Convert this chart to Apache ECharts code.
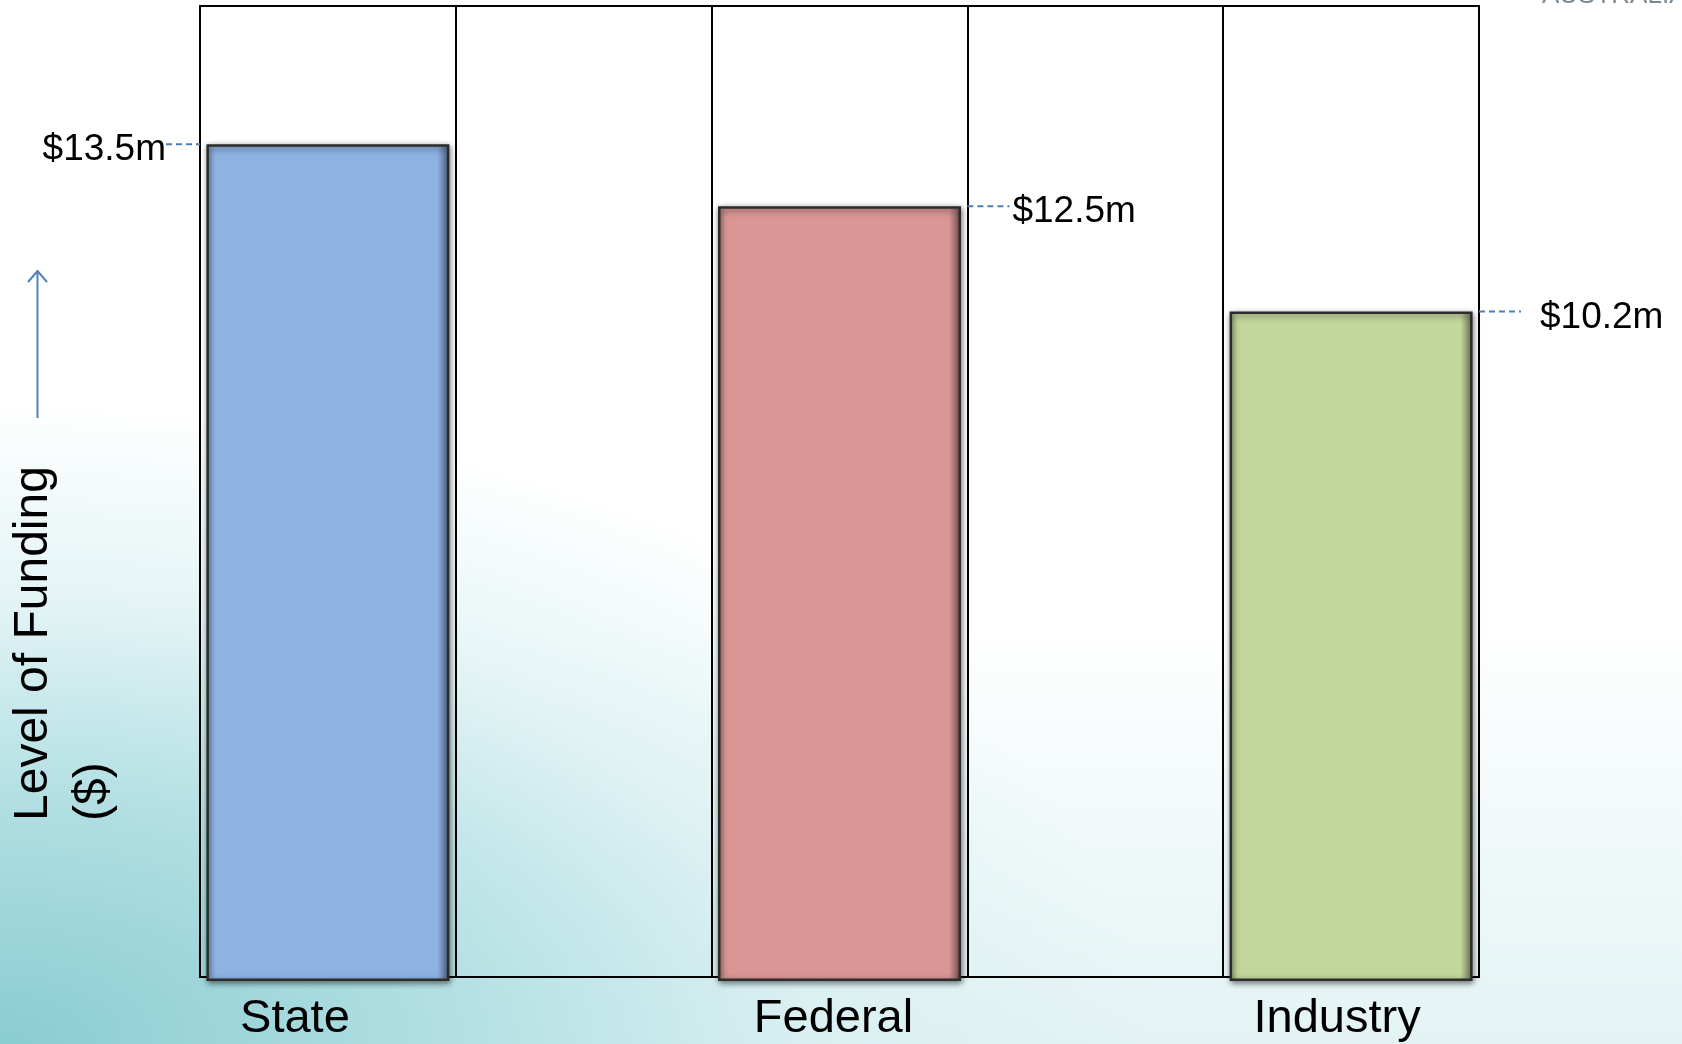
<!DOCTYPE html>
<html>
<head>
<meta charset="utf-8">
<script src="https://cdn.jsdelivr.net/npm/echarts@6/dist/echarts.min.js"></script>
<style>
  html, body { margin: 0; padding: 0; }
  body {
    width: 1682px; height: 1044px; overflow: hidden;
    background:
      radial-gradient(ellipse 1150px 640px at 0% 100%, rgba(138,204,210,1) 0%, rgba(170,220,224,0.95) 35%, rgba(210,237,239,0.6) 70%, rgba(255,255,255,0) 100%),
      linear-gradient(to top, #e3f3f4 0%, #ffffff 40%);
  }
  #chart { width: 1682px; height: 1044px; }
</style>
</head>
<body>
<div id="chart"></div>
<script>
// ---- data ----
const categories    = ['State', '', 'Federal', '', 'Industry'];
const fundingValues = [13.5, null, 12.5, null, 10.8];      // bar heights ($m) as drawn
const valueLabels   = ['$13.5m', '', '$12.5m', '', '$10.2m'];
const axisTitle     = 'Level of Funding\n($)';
const cornerText    = 'AUSTRALIA';

// ---- styling (kept separate from data) ----
const barColors  = ['#8DB3E2', null, '#D99694', null, '#C3D69B'];
const labelSide  = ['left', null, 'right', null, 'right'];
const labelGap   = [1, 0, 3, 0, 19];     // gap between leader line and value text
const labelShift = [66, 0, 12, 0, 28];   // padding to nudge category labels left
const FONT = '"Liberation Sans", Arial, sans-serif';

function shade(hex, f) {
  const n = parseInt(hex.slice(1), 16);
  const r = Math.round(((n >> 16) & 255) * f), g = Math.round(((n >> 8) & 255) * f), b = Math.round((n & 255) * f);
  return 'rgb(' + r + ',' + g + ',' + b + ')';
}
function barFill(hex) {
  return {
    type: 'linear', x: 0, y: 0, x2: 1, y2: 0,
    colorStops: [
      { offset: 0, color: shade(hex, 0.75) },
      { offset: 0.03, color: hex },
      { offset: 0.95, color: hex },
      { offset: 1, color: shade(hex, 0.55) }
    ]
  };
}

const barData = fundingValues.map((v, i) => v == null ? null : ({
  value: v,
  itemStyle: { color: barFill(barColors[i]) }
}));
const annotData = [];
fundingValues.forEach((v, i) => { if (v != null) annotData.push([i, v]); });

const xCats = categories.map((c, i) => ({
  value: c,
  textStyle: { padding: [0, labelShift[i], 0, 0] }
}));

const chart = echarts.init(document.getElementById('chart'), null, { renderer: 'canvas' });
chart.setOption({
  backgroundColor: 'transparent',
  animation: false,
  grid: [
    { left: 200, right: 203, top: 6, bottom: 67, show: true, borderColor: '#000', borderWidth: 2, backgroundColor: 'transparent' },
    { left: 200, right: 203, top: 6, bottom: 63, show: false }
  ],
  xAxis: [
    {
      gridIndex: 0, type: 'category', data: categories, boundaryGap: true,
      axisLine: { show: false }, axisTick: { show: false }, axisLabel: { show: false },
      splitLine: { show: true, interval: 0, lineStyle: { color: '#000', width: 2 } }
    },
    {
      gridIndex: 1, type: 'category', data: xCats, boundaryGap: true,
      axisLine: { show: false }, axisTick: { show: false },
      axisLabel: { show: true, interval: 0, margin: 15, color: '#000', fontSize: 47, fontFamily: FONT },
      splitLine: { show: false }
    }
  ],
  yAxis: [
    { gridIndex: 0, type: 'value', min: 0, max: 15.73, show: false, splitLine: { show: false } },
    { gridIndex: 1, type: 'value', min: 0, max: 15.73, show: false, splitLine: { show: false } }
  ],
  series: [
    {
      type: 'bar', xAxisIndex: 1, yAxisIndex: 1, data: barData,
      barCategoryGap: '5%',
      itemStyle: {
        borderColor: '#2c2c2c', borderWidth: 2.5,
        shadowBlur: 6, shadowColor: 'rgba(0,0,0,0.5)', shadowOffsetX: 1, shadowOffsetY: 2
      },
      z: 3
    },
    {
      type: 'custom', xAxisIndex: 1, yAxisIndex: 1, data: annotData, z: 4, clip: false,
      renderItem: function (params, api) {
        const i = api.value(0), v = api.value(1);
        const p = api.coord([i, v]);
        const half = api.size([1, 0])[0] / 2;
        let x1, x2, tx, align;
        if (labelSide[i] === 'left') {
          x2 = p[0] - half; x1 = x2 - 34; tx = x1 + 1 - labelGap[i]; align = 'right';
        } else {
          x1 = p[0] + half; x2 = x1 + 42; tx = x2 + labelGap[i]; align = 'left';
        }
        return {
          type: 'group',
          children: [
            { type: 'line', shape: { x1: x1, y1: p[1], x2: x2, y2: p[1] },
              style: { stroke: '#4A7EBB', lineWidth: 2, lineDash: [6, 4] } },
            { type: 'text', x: tx, y: p[1] + 6,
              style: { text: valueLabels[i], fill: '#000', fontSize: 37, fontFamily: FONT, align: align, verticalAlign: 'middle' } }
          ]
        };
      }
    }
  ],
  graphic: [
    { type: 'line', shape: { x1: 37.5, y1: 418, x2: 37.5, y2: 271 }, style: { stroke: '#4F81BD', lineWidth: 2 } },
    { type: 'polyline', shape: { points: [[28, 282], [37.5, 271], [47, 282]] }, style: { stroke: '#4F81BD', lineWidth: 2, fill: null } },
    { type: 'text', x: 4, y: 821, rotation: Math.PI / 2,
      style: { text: axisTitle, fill: '#000', fontSize: 48, fontFamily: FONT, lineHeight: 60, align: 'left', verticalAlign: 'top' } },
    { type: 'text', x: 1542, y: 9, style: { text: cornerText, fill: '#7d8a94', fontSize: 26, fontFamily: FONT, align: 'left', verticalAlign: 'bottom' } }
  ]
});
</script>
</body>
</html>
